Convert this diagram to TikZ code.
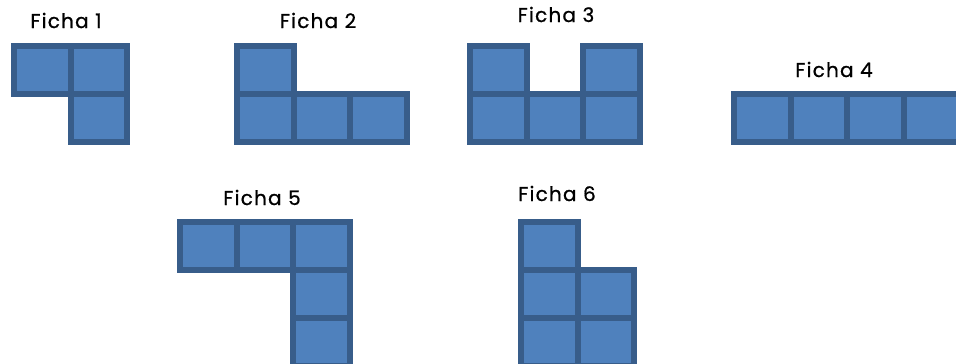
\documentclass[tikz,border=0pt]{standalone}
\usepackage{fontspec}
\setmainfont{Poppins}[LetterSpace=6, FakeBold=0.8]
\usetikzlibrary{positioning}
\definecolor{tilefill}{HTML}{4F81BD}
\definecolor{tileline}{HTML}{385D8A}

\begin{document}
\begin{tikzpicture}[x=1pt, y=-1pt, node distance=0pt and 0pt,
  every node/.style={font=\fontsize{20}{24}\selectfont},
  cell/.style={draw=tileline, fill=tilefill, line width=6pt, minimum width=56.5pt, minimum height=48pt, inner sep=0pt, outer sep=0pt},
  fichatxt/.style={anchor=base, text=black, inner sep=0pt}]
  \useasboundingbox (0,0) rectangle (956,364);
  % Ficha 1
  \node[cell] (a1) at (42.25,70) {};
  \node[cell, right=of a1] (a2) {};
  \node[cell, below=of a2] (a3) {};
  % Ficha 2
  \node[cell] (b1) at (265.25,70) {};
  \node[cell, below=of b1] (b2) {};
  \node[cell, right=of b2] (b3) {};
  \node[cell, right=of b3] (b4) {};
  % Ficha 3
  \node[cell] (c1) at (498.25,70) {};
  \node[cell, below=of c1] (c2) {};
  \node[cell, right=of c2] (c3) {};
  \node[cell, right=of c3] (c4) {};
  \node[cell, above=of c4] (c5) {};
  % Ficha 4
  \node[cell] (d1) at (762.25,118) {};
  \node[cell, right=of d1] (d2) {};
  \node[cell, right=of d2] (d3) {};
  \node[cell, right=of d3] (d4) {};
  % Ficha 5
  \node[cell] (e1) at (208.25,246) {};
  \node[cell, right=of e1] (e2) {};
  \node[cell, right=of e2] (e3) {};
  \node[cell, below=of e3] (e4) {};
  \node[cell, below=of e4] (e5) {};
  % Ficha 6
  \node[cell] (f1) at (549.25,246) {};
  \node[cell, below=of f1] (f2) {};
  \node[cell, below=of f2] (f3) {};
  \node[cell, right=of f2] (f4) {};
  \node[cell, right=of f3] (f5) {};
  % titles
  \node[fichatxt] (t1) at (66,28) {Ficha 1};
  \node[fichatxt] (t2) at (318,28) {Ficha 2};
  \node[fichatxt] (t3) at (556,22) {Ficha 3};
  \node[fichatxt] (t4) at (834,77) {Ficha 4};
  \node[fichatxt] (t5) at (262,205) {Ficha 5};
  \node[fichatxt] (t6) at (557,201) {Ficha 6};
\end{tikzpicture}
\end{document}
